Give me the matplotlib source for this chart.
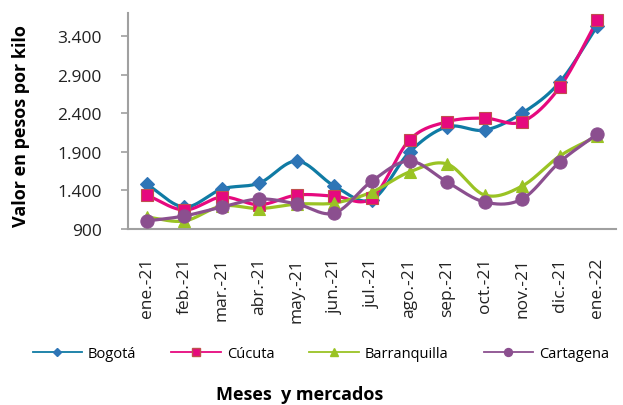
import numpy as np
import matplotlib
matplotlib.use("Agg")
import matplotlib.pyplot as plt
from matplotlib.lines import Line2D

plt.rcParams['font.family'] = ['Open Sans', 'DejaVu Sans']

months = ["ene.-21", "feb.-21", "mar.-21", "abr.-21", "may.-21", "jun.-21", "jul.-21",
          "ago.-21", "sep.-21", "oct.-21", "nov.-21", "dic.-21", "ene.-22"]
bogota = [1480, 1185, 1418, 1496, 1781, 1457, 1280, 1897, 2225, 2182, 2402, 2803, 3529]
cucuta = [1340, 1146, 1314, 1215, 1340, 1327, 1301, 2055, 2290, 2337, 2290, 2738, 3606]
barranquilla = [1055, 1004, 1198, 1165, 1224, 1237, 1380, 1640, 1743, 1340, 1457, 1846, 2104]
cartagena = [1004, 1069, 1185, 1289, 1224, 1107, 1522, 1781, 1509, 1250, 1289, 1768, 2130]
yticks = [900, 1400, 1900, 2400, 2900, 3400]

def smooth(vals, n=30):
    y = np.asarray(vals, float)
    m = len(y)
    tang = np.empty(m)
    tang[1:-1] = (y[2:] - y[:-2]) / 2
    tang[0] = y[1] - y[0]
    tang[-1] = y[-1] - y[-2]
    xs, ys = [], []
    for i in range(m - 1):
        t = np.linspace(0, 1, n, endpoint=(i == m - 2))
        h00 = 2*t**3 - 3*t**2 + 1
        h10 = t**3 - 2*t**2 + t
        h01 = -2*t**3 + 3*t**2
        h11 = t**3 - t**2
        xs.append(i + t)
        ys.append(h00*y[i] + h10*tang[i] + h01*y[i+1] + h11*tang[i+1])
    return np.concatenate(xs), np.concatenate(ys)

fig = plt.figure(figsize=(6.23, 4.06), dpi=100)
ax = fig.add_axes([128/623, 1-230/406, (616-128)/623, (230-14)/406])

series = [
    ("Bogotá", bogota, '#0F7BA4', 'D', '#2E75B6', '#2E75B6', 7.5),
    ("Cúcuta", cucuta, '#E6097E', 's', '#E6097E', '#C0504D', 8.5),
    ("Barranquilla", barranquilla, '#9AC324', '^', '#9AC324', '#9AC324', 8.5),
    ("Cartagena", cartagena, '#8B4F8F', 'o', '#8B4F8F', '#8B4F8F', 9.5),
]
x = np.arange(len(months))
handles = []
for name, vals, lc, mk, mfc, mec, ms in series:
    sx, sy = smooth(vals)
    ax.plot(sx, sy, color=lc, lw=2.3, solid_capstyle='round', zorder=2)
    ax.plot(x, vals, ls='none', marker=mk, ms=ms, mfc=mfc, mec=mec, mew=0.8, zorder=3)
    handles.append(Line2D([], [], color=lc, lw=1.3, marker=mk, ms=ms*0.6, mfc=mfc, mec=mec, label=name))

ax.set_xlim(-0.5, len(months) - 0.5)
ax.set_ylim(900, 3700)
ax.set_yticks(yticks)
ax.set_yticklabels([f"{v:,}".replace(",", ".") for v in yticks], fontsize=12.5, color='#222222')
ax.set_xticks(x)
ax.set_xticklabels(months, rotation=90, fontsize=12.5, color='#222222', va='top')
ax.tick_params(axis='x', length=0, pad=20)
ax.tick_params(axis='y', length=5, width=1.2, color='#A0A0A0', pad=14)
for s in ['top', 'right']:
    ax.spines[s].set_visible(False)
for s in ['left', 'bottom']:
    ax.spines[s].set_color('#A0A0A0')
    ax.spines[s].set_linewidth(1.5)

ax.set_ylabel("Valor en pesos por kilo", fontsize=13, fontweight='bold')
ax.yaxis.set_label_coords(-0.2, 0.48)

fig.legend(handles=handles, loc='center', bbox_to_anchor=(0.515, 1-355/406), ncol=4,
           frameon=False, fontsize=10.5, handlelength=3.4, columnspacing=2.4, handletextpad=0.4)
fig.text(300/623, 1-395/406, "Meses  y mercados", fontsize=13, fontweight='bold',
         ha='center', va='center')

fig.savefig("out.png", dpi=100)
